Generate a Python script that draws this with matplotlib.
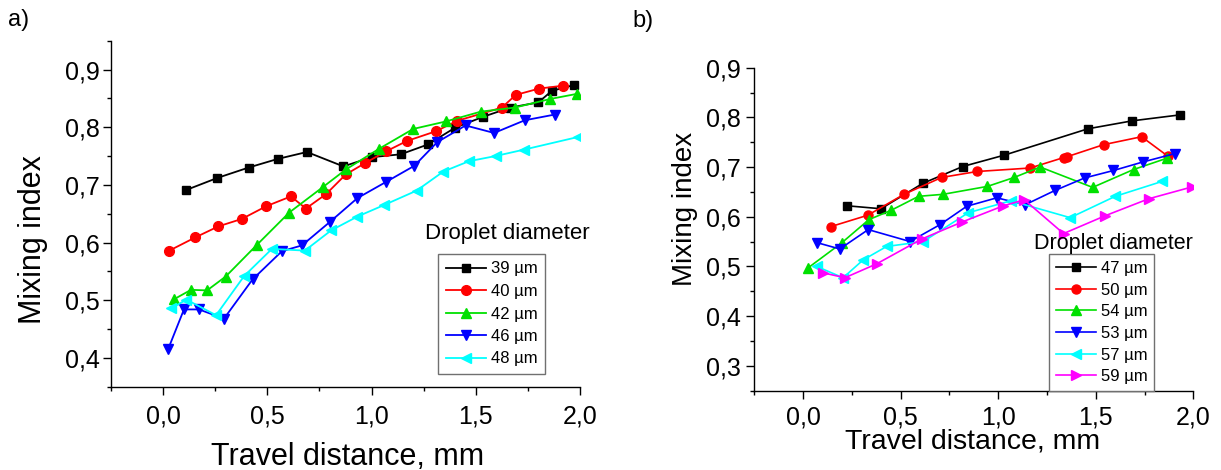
import matplotlib
matplotlib.use("Agg")
import matplotlib.pyplot as plt
from matplotlib.ticker import MultipleLocator, FuncFormatter

plt.rcParams['font.family'] = ['Liberation Sans', 'DejaVu Sans']

# ---------------- data: panel a ----------------
labels_a = ["39 \u00b5m", "40 \u00b5m", "42 \u00b5m", "46 \u00b5m", "48 \u00b5m"]
xa39 = [0.11, 0.26, 0.41, 0.55, 0.69, 0.865, 1.00, 1.14, 1.27, 1.40, 1.535, 1.665, 1.80, 1.865, 1.97]
ya39 = [0.691, 0.712, 0.730, 0.745, 0.757, 0.732, 0.748, 0.753, 0.770, 0.799, 0.818, 0.834, 0.843, 0.863, 0.873]
xa40 = [0.03, 0.155, 0.265, 0.378, 0.495, 0.613, 0.685, 0.782, 0.876, 0.97, 1.069, 1.169, 1.309, 1.41, 1.625, 1.692, 1.804, 1.919]
ya40 = [0.586, 0.609, 0.628, 0.641, 0.663, 0.680, 0.659, 0.684, 0.718, 0.738, 0.758, 0.776, 0.793, 0.811, 0.834, 0.856, 0.867, 0.872]
xa42 = [0.054, 0.134, 0.211, 0.300, 0.450, 0.605, 0.766, 0.878, 1.038, 1.200, 1.357, 1.524, 1.687, 1.858, 1.988]
ya42 = [0.502, 0.518, 0.517, 0.541, 0.596, 0.652, 0.696, 0.727, 0.763, 0.797, 0.810, 0.827, 0.834, 0.849, 0.858]
xa46 = [0.024, 0.100, 0.172, 0.292, 0.429, 0.570, 0.666, 0.801, 0.932, 1.069, 1.205, 1.315, 1.451, 1.588, 1.735, 1.880]
ya46 = [0.415, 0.484, 0.484, 0.468, 0.536, 0.585, 0.595, 0.636, 0.677, 0.705, 0.733, 0.774, 0.803, 0.790, 0.812, 0.822]
xa48 = [0.040, 0.112, 0.254, 0.389, 0.522, 0.680, 0.806, 0.932, 1.060, 1.216, 1.344, 1.467, 1.595, 1.730, 1.990]
ya48 = [0.486, 0.501, 0.474, 0.542, 0.589, 0.586, 0.621, 0.645, 0.665, 0.690, 0.723, 0.741, 0.750, 0.761, 0.783]

# ---------------- data: panel b ----------------
labels_b = ["47 \u00b5m", "50 \u00b5m", "54 \u00b5m", "53 \u00b5m", "57 \u00b5m", "59 \u00b5m"]
xb47 = [0.224, 0.399, 0.613, 0.818, 1.032, 1.460, 1.687, 1.932]
yb47 = [0.622, 0.616, 0.667, 0.701, 0.724, 0.777, 0.793, 0.805]
xb50 = [0.142, 0.332, 0.517, 0.710, 0.892, 1.164, 1.335, 1.355, 1.540, 1.735, 1.869]
yb50 = [0.580, 0.603, 0.645, 0.679, 0.691, 0.698, 0.719, 0.721, 0.745, 0.761, 0.722]
xb54 = [0.026, 0.197, 0.337, 0.452, 0.592, 0.717, 0.945, 1.082, 1.215, 1.484, 1.694, 1.867]
yb54 = [0.497, 0.547, 0.594, 0.613, 0.641, 0.645, 0.661, 0.679, 0.700, 0.659, 0.695, 0.718]
xb53 = [0.069, 0.188, 0.334, 0.548, 0.702, 0.839, 0.993, 1.138, 1.292, 1.443, 1.591, 1.740, 1.905]
yb53 = [0.548, 0.535, 0.574, 0.550, 0.584, 0.621, 0.638, 0.624, 0.653, 0.678, 0.693, 0.710, 0.727]
xb57 = [0.069, 0.205, 0.308, 0.428, 0.616, 0.847, 1.065, 1.369, 1.600, 1.840]
yb57 = [0.500, 0.477, 0.513, 0.540, 0.550, 0.608, 0.632, 0.598, 0.641, 0.671]
xb59 = [0.103, 0.214, 0.377, 0.608, 0.813, 1.027, 1.134, 1.335, 1.549, 1.771, 1.994]
yb59 = [0.487, 0.477, 0.505, 0.555, 0.589, 0.622, 0.634, 0.566, 0.602, 0.636, 0.660]

series_a = [(xa39, ya39), (xa40, ya40), (xa42, ya42), (xa46, ya46), (xa48, ya48)]
series_b = [(xb47, yb47), (xb50, yb50), (xb54, yb54), (xb53, yb53), (xb57, yb57), (xb59, yb59)]

colors_a = ['#000000', '#ff0000', '#00e000', '#0000ff', '#00ffff']
markers_a = ['s', 'o', '^', 'v', '<']
msizes_a = [6, 7, 7.5, 7.5, 7.5]
colors_b = ['#000000', '#ff0000', '#00e000', '#0000ff', '#00ffff', '#ff00ff']
markers_b = ['s', 'o', '^', 'v', '<', '>']
msizes_b = [5.5, 6.5, 7, 7, 7, 7]

W, H = 1221, 470
fig = plt.figure(figsize=(W / 100, H / 100), dpi=100)


def px_axes(x0, top, x1, bottom):
    return fig.add_axes([x0 / W, 1 - bottom / H, (x1 - x0) / W, (bottom - top) / H])


comma = FuncFormatter(lambda v, p: f"{v:.1f}".replace('.', ','))


def style(ax, ylim, ypad, xpad, fs):
    ax.set_xlim(-0.25, 2.0)
    ax.set_ylim(*ylim)
    for s in ['top', 'right']:
        ax.spines[s].set_visible(False)
    for s in ['left', 'bottom']:
        ax.spines[s].set_linewidth(1.0)
    ax.xaxis.set_major_locator(MultipleLocator(0.5))
    ax.xaxis.set_minor_locator(MultipleLocator(0.25))
    ax.yaxis.set_major_locator(MultipleLocator(0.1))
    ax.yaxis.set_minor_locator(MultipleLocator(0.05))
    ax.xaxis.set_major_formatter(comma)
    ax.yaxis.set_major_formatter(comma)
    ax.tick_params(which='major', direction='out', length=5.5, width=1.0, labelsize=fs)
    ax.tick_params(which='minor', direction='out', length=3, width=1.0)
    ax.tick_params(axis='y', which='major', pad=ypad)
    ax.tick_params(axis='x', which='major', pad=xpad)


# ---------------- panel a ----------------
axa = px_axes(111, 40.7, 580, 386.7)
style(axa, (0.35, 0.95), 2.5, 7, 18)
for (x, y), c, m, ms, lab in zip(series_a, colors_a, markers_a, msizes_a, labels_a):
    axa.plot(x, y, color=c, marker=m, markersize=ms, linewidth=1.3, label=lab)
axa.set_xlabel("Travel distance, mm", fontsize=22)
axa.set_ylabel("Mixing index", fontsize=22)
axa.xaxis.label.set_va('center')
axa.yaxis.label.set_va('center')
axa.xaxis.set_label_coords(0.504, -0.203)
axa.yaxis.set_label_coords(-0.167, 0.424)
leg = axa.legend(loc='upper left', bbox_to_anchor=(438.3 / W, 1 - 254 / H),
                 bbox_transform=fig.transFigure, borderaxespad=0, fontsize=12,
                 fancybox=False, edgecolor='#707070', framealpha=1,
                 handlelength=2.4, handletextpad=0.3, labelspacing=0.45,
                 borderpad=0.45)
leg.get_frame().set_linewidth(1.0)
fig.text(507 / W, 1 - 234 / H, "Droplet diameter", fontsize=16, ha='center', va='center')
fig.text(8 / W, 1 - 20 / H, "a)", fontsize=17, ha='left', va='center')

# ---------------- panel b ----------------
axb = px_axes(754.3, 67.7, 1193.3, 390.5)
style(axb, (0.25, 0.9), 4.5, 5, 18)
for (x, y), c, m, ms, lab in zip(series_b, colors_b, markers_b, msizes_b, labels_b):
    axb.plot(x, y, color=c, marker=m, markersize=ms, linewidth=1.2, label=lab)
axb.set_xlabel("Travel distance, mm", fontsize=20.5)
axb.set_ylabel("Mixing index", fontsize=20)
axb.xaxis.label.set_va('center')
axb.yaxis.label.set_va('center')
axb.xaxis.set_label_coords(0.498, -0.158)
axb.yaxis.set_label_coords(-0.158, 0.562)
legb = axb.legend(loc='upper left', bbox_to_anchor=(1049.3 / W, 1 - 254.3 / H),
                  bbox_transform=fig.transFigure, borderaxespad=0, fontsize=12,
                  fancybox=False, edgecolor='#707070', framealpha=1,
                  handlelength=2.4, handletextpad=0.3, labelspacing=0.4,
                  borderpad=0.4)
legb.get_frame().set_linewidth(1.0)
fig.text(1113 / W, 1 - 243 / H, "Droplet diameter", fontsize=15.5, ha='center', va='center')
fig.text(632 / W, 1 - 21 / H, "b)", fontsize=17, ha='left', va='center')

fig.savefig("out.png", dpi=100)
